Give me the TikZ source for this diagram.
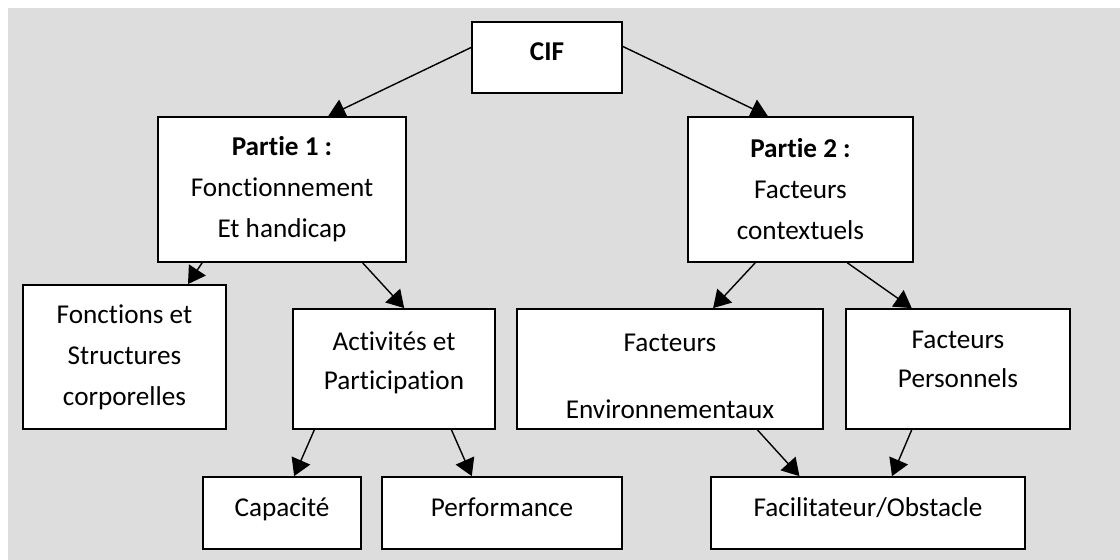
\documentclass[tikz,border=0pt]{standalone}
\usepackage{fontspec}
\setmainfont{Carlito}[Ligatures=NoCommon]
\usetikzlibrary{arrows.meta, calc}
\definecolor{bggrey}{RGB}{221,221,221}

\begin{document}
\begin{tikzpicture}[
  x=0.5pt, y=-0.5pt,
  font=\fontsize{13.6}{20.5}\selectfont,
  box/.style={rectangle, draw=black, fill=white, line width=0.9pt,
              align=center, inner sep=2pt},
  onerow/.style={text height=9.5pt, text depth=6pt},
  arr/.style={-{Triangle[length=8.5pt, width=10pt]}, line width=0.7pt}
]

% ── Page and grey background ──
\useasboundingbox (0,0) rectangle (1120,560);
\fill[bggrey] (8,8) rectangle (1120,560);

% ── Top: CIF ──
\node[box, onerow, minimum width=75pt, minimum height=35.5pt] (cif) at (547,57.5)
  {\textbf{CIF}};

% ── Level 1: the two parts ──
\node[box, minimum width=124pt, minimum height=72.5pt] (p1) at (282,189.5)
  {\textbf{Partie 1 :}\\Fonctionnement\\Et handicap};
\node[box, minimum width=112.5pt, minimum height=72.5pt] (p2) at (800.5,189.5)
  {\textbf{Partie 2 :}\\Facteurs\\contextuels};

% ── Level 2 ──
\node[box, minimum width=101.5pt, minimum height=72pt] (fct) at (124.5,357)
  {Fonctions et\\Structures\\corporelles};
\node[box, minimum width=101pt, minimum height=60pt] (act) at (394,369)
  {Activités et\\[-1pt]Participation\rule[-8pt]{0pt}{0pt}};
\node[box, minimum width=153pt, minimum height=60pt] (env) at (670,369)
  {\rule{0pt}{16pt}Facteurs\\[13pt]Environnementaux};
\node[box, minimum width=112pt, minimum height=60pt] (pers) at (958,369)
  {Facteurs\\[-1pt]Personnels\rule[-10pt]{0pt}{0pt}};

% ── Level 3 ──
\node[box, onerow, minimum width=79pt, minimum height=36pt] (cap) at (282,513)
  {Capacité};
\node[box, onerow, minimum width=120pt, minimum height=36pt] (perf) at (502,513)
  {Performance};
\node[box, onerow, minimum width=157pt, minimum height=36pt] (fac) at (868,513)
  {Facilitateur/Obstacle};

% ── Arrows ──
\draw[arr] ([yshift=5pt]cif.west)
  -- ($(p1.north west)!0.685!(p1.north east)$);
\draw[arr] ([yshift=5.5pt]cif.east)
  -- ($(p2.north west)!0.356!(p2.north east)$);
\draw[arr] ($(p1.south west)!0.18!(p1.south east)$)
  -- ($(fct.north west)!0.81!(fct.north east)$);
\draw[arr] ($(p1.south west)!0.823!(p1.south east)$)
  -- ($(act.north west)!0.55!(act.north east)$);
\draw[arr] ($(p2.south west)!0.30!(p2.south east)$)
  -- ($(env.north west)!0.64!(env.north east)$);
\draw[arr] ($(p2.south west)!0.707!(p2.south east)$)
  -- ($(pers.north west)!0.295!(pers.north east)$);
\draw[arr] ($(act.south west)!0.109!(act.south east)$)
  -- ($(cap.north west)!0.576!(cap.north east)$);
\draw[arr] ($(act.south west)!0.782!(act.south east)$)
  -- ($(perf.north west)!0.375!(perf.north east)$);
\draw[arr] ($(env.south west)!0.784!(env.south east)$)
  -- ($(fac.north west)!0.283!(fac.north east)$);
\draw[arr] ($(pers.south west)!0.295!(pers.south east)$)
  -- ($(fac.north west)!0.576!(fac.north east)$);

\end{tikzpicture}
\end{document}
